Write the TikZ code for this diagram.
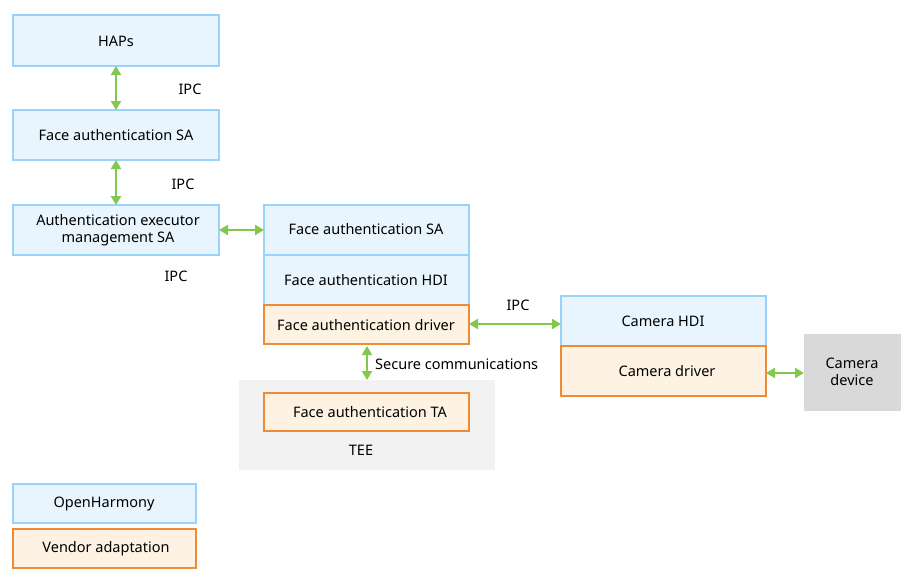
\documentclass[tikz,border=0pt]{standalone}
\usepackage{fontspec}
\setmainfont{Noto Sans}
\usetikzlibrary{arrows.meta}
\definecolor{bfill}{HTML}{E8F5FE}
\definecolor{bdraw}{HTML}{9AD3FA}
\definecolor{ofill}{HTML}{FEF3E2}
\definecolor{odraw}{HTML}{EF8A35}
\definecolor{agreen}{HTML}{82C84C}
\definecolor{teegray}{HTML}{F2F2F2}
\definecolor{devgray}{HTML}{D9D9D9}
\begin{document}
\begin{tikzpicture}[x=1pt,y=-1pt,
  every node/.style={font=\fontsize{14.5}{17.5}\selectfont, text=black},
  bluebox/.style={draw=bdraw, fill=bfill, line width=1.3pt},
  orangebox/.style={draw=odraw, fill=ofill, line width=1.3pt},
  conn/.style={draw=agreen, line width=2.6pt, {Triangle[length=9pt,width=10pt]}-{Triangle[length=9pt,width=10pt]}},
  lbl/.style={inner sep=0pt}]
\useasboundingbox (0,0) rectangle (912,581);
% TEE background
\fill[teegray] (239,380) rectangle (495,470);
\node[lbl] (tee) at (361,450) {TEE};
% left column
\draw[bluebox] (13,15) rectangle (219,66);
\node[lbl] (haps) at (116,41) {HAPs};
\draw[bluebox] (13,110) rectangle (219,160);
\node[lbl] (fasa1) at (116,135) {Face authentication SA};
\draw[bluebox] (13,205) rectangle (219,255);
\node[lbl, align=center] (aem) at (118,230) {Authentication executor\\management SA};
\coordinate (h1) at (116,66); \coordinate (f1t) at (116,110);
\coordinate (f1b) at (116,160); \coordinate (at) at (116,205);
\draw[conn] (h1) -- (f1t);
\draw[conn] (f1b) -- (at);
\node[lbl] (ipc1) at (190,89) {IPC};
\node[lbl] (ipc2) at (183,184) {IPC};
\node[lbl] (ipc3) at (176,276) {IPC};
% middle stack
\draw[bluebox] (264,205) rectangle (469,255);
\node[lbl] (fasa2) at (366,229) {Face authentication SA};
\draw[bluebox] (264,255) rectangle (469,305);
\node[lbl] (fahdi) at (366,280) {Face authentication HDI};
\draw[orangebox] (264,305) rectangle (469,344);
\node[lbl] (fadrv) at (366,325) {Face authentication driver};
\draw[orangebox] (264,393) rectangle (469,431);
\node[lbl] (fata) at (370,412) {Face authentication TA};
\coordinate (ar) at (219,230); \coordinate (sl) at (264,230);
\draw[conn] (ar) -- (sl);
\coordinate (dv) at (367,346); \coordinate (tv) at (367,380);
\draw[conn] (dv) -- (tv);
\node[lbl, anchor=west] (sec) at (375,364) {Secure communications};
% camera
\draw[bluebox] (561,296) rectangle (766,346);
\node[lbl] (camhdi) at (663,321) {Camera HDI};
\draw[orangebox] (561,346) rectangle (766,396);
\node[lbl] (camdrv) at (667,371) {Camera driver};
\fill[devgray] (804,334) rectangle (901,411);
\node[lbl, align=center] (camdev) at (852,372) {Camera\\device};
\coordinate (dr) at (469,324); \coordinate (cl) at (561,324);
\draw[conn] (dr) -- (cl);
\node[lbl] (ipc4) at (518,305) {IPC};
\coordinate (cr) at (766,373); \coordinate (dl) at (804,373);
\draw[conn] (cr) -- (dl);
% legend
\draw[bluebox] (13,484) rectangle (196,523);
\node[lbl] (oh) at (104,504) {OpenHarmony};
\draw[orangebox] (13,529) rectangle (196,568);
\node[lbl] (va) at (106,549) {Vendor adaptation};
\end{tikzpicture}
\end{document}
